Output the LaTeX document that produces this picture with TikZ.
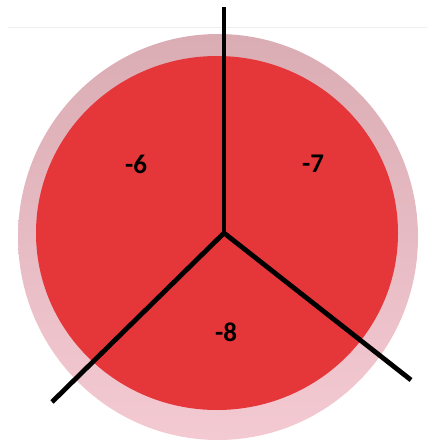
\documentclass[tikz,border=0pt]{standalone}
\usepackage{fontspec}
\setmainfont{Carlito}
\usepackage{tikz}
\usetikzlibrary{positioning}

\definecolor{rimpink}{RGB}{218,172,180}
\definecolor{rimlight}{RGB}{244,202,210}
\definecolor{platered}{RGB}{229,54,58}

\begin{document}
\begin{tikzpicture}[x=1pt,y=-1pt]
  \useasboundingbox (0,0) rectangle (428,441);
  \tikzset{
    cut/.style={black,line width=4.8pt},
    score/.style={font=\fontsize{27}{30}\selectfont\bfseries,text=black}
  }
  % faint table edge
  \draw[black!6,line width=0.8pt] (8,27) -- (428,27);
  % plate
  \shade[top color=rimpink,bottom color=rimlight] (218,237) ellipse [x radius=200, y radius=203];
  \fill[platered] (217,233) ellipse [x radius=181, y radius=177];

  \coordinate (hub) at (224,233);
  \coordinate (top) at (224,7);
  \coordinate (lowleft) at (52,402);
  \coordinate (lowright) at (411,380);
  \foreach \e in {top,lowleft,lowright}
    \draw[cut] (hub) -- (\e);

  \node[score] (six) at (136,164) {-6};
  \node[score] (seven) at (313,164) {-7};
  \node[score] (eight) at (226,332) {-8};
\end{tikzpicture}
\end{document}
